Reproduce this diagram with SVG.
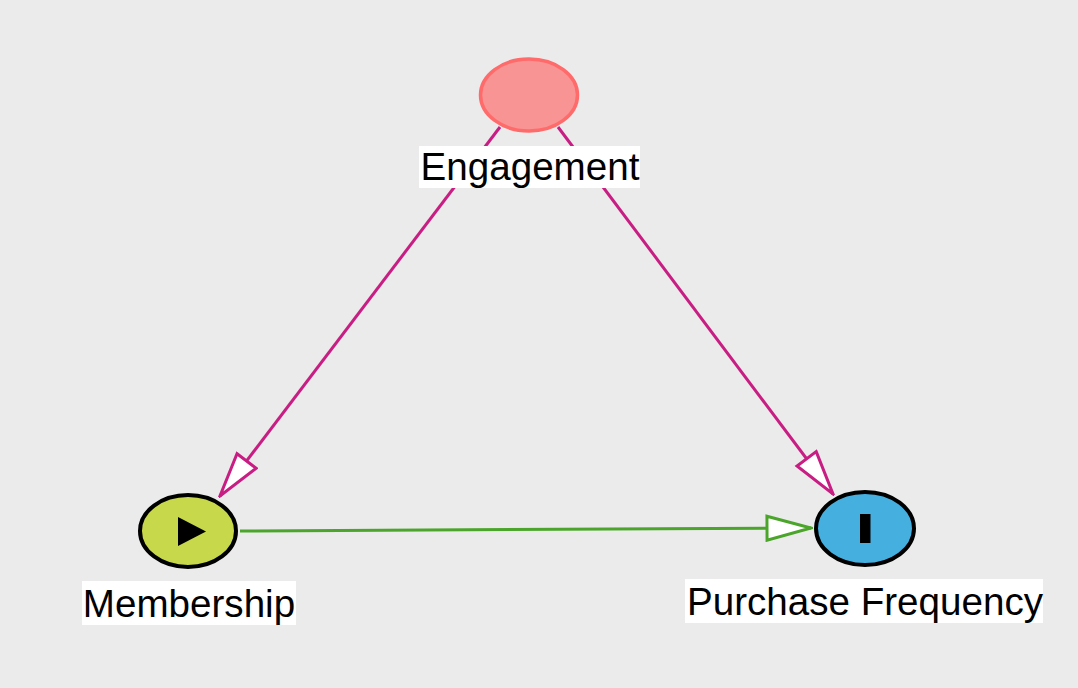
<svg xmlns="http://www.w3.org/2000/svg" width="1078" height="688" viewBox="0 0 1078 688">
  <style>
    .lbl { font-family: "Liberation Sans", Arial, Helvetica, sans-serif; font-size: 38.6px; fill: #000; text-anchor: middle; }
    .lblbox { fill: #ffffff; }
    .edge { fill: none; stroke-width: 3; }
    .mag { stroke: #C81E83; }
    .grn { stroke: #4AA52A; }
  </style>
  <defs>
    <marker id="arrMag" viewBox="0 0 48 28" refX="46" refY="14" markerWidth="48" markerHeight="28" markerUnits="userSpaceOnUse" orient="auto">
      <path d="M2,2 L46,14 L2,26 Z" fill="#ffffff" stroke="#C81E83" stroke-width="3" stroke-linejoin="miter"/>
    </marker>
    <marker id="arrGrn" viewBox="0 0 48 28" refX="46" refY="14" markerWidth="48" markerHeight="28" markerUnits="userSpaceOnUse" orient="auto">
      <path d="M2,2 L46,14 L2,26 Z" fill="#ffffff" stroke="#4AA52A" stroke-width="3" stroke-linejoin="miter"/>
    </marker>
  </defs>
  <rect x="0" y="0" width="1078" height="688" fill="#EBEBEB"/>

  <g id="connectors">
    <line class="edge mag" x1="500" y1="127" x2="220" y2="496" marker-end="url(#arrMag)"/>
    <line class="edge mag" x1="558" y1="127" x2="833" y2="494" marker-end="url(#arrMag)"/>
    <line class="edge grn" x1="240" y1="531" x2="811" y2="528" marker-end="url(#arrGrn)"/>
  </g>

  <g id="node-engagement">
    <ellipse cx="529" cy="95" rx="48.5" ry="36" fill="#F99494" stroke="#FF6B6B" stroke-width="3.5"/>
    <rect class="lblbox" x="419" y="146" width="221" height="42"/>
    <text class="lbl" x="530" y="180">Engagement</text>
  </g>

  <g id="node-membership">
    <ellipse cx="188" cy="531" rx="48" ry="36" fill="#C8D84B" stroke="#000" stroke-width="4"/>
    <path d="M178,517 L178,546 L206,531.5 Z" fill="#000"/>
    <rect class="lblbox" x="82" y="581" width="214" height="44"/>
    <text class="lbl" x="189" y="617">Membership</text>
  </g>

  <g id="node-purchase">
    <ellipse cx="865" cy="528.5" rx="49" ry="36.5" fill="#45B0E0" stroke="#000" stroke-width="4"/>
    <rect x="860" y="514" width="10.5" height="29" fill="#000"/>
    <rect class="lblbox" x="685" y="579" width="358" height="44"/>
    <text class="lbl" x="865" y="615">Purchase Frequency</text>
  </g>
</svg>
